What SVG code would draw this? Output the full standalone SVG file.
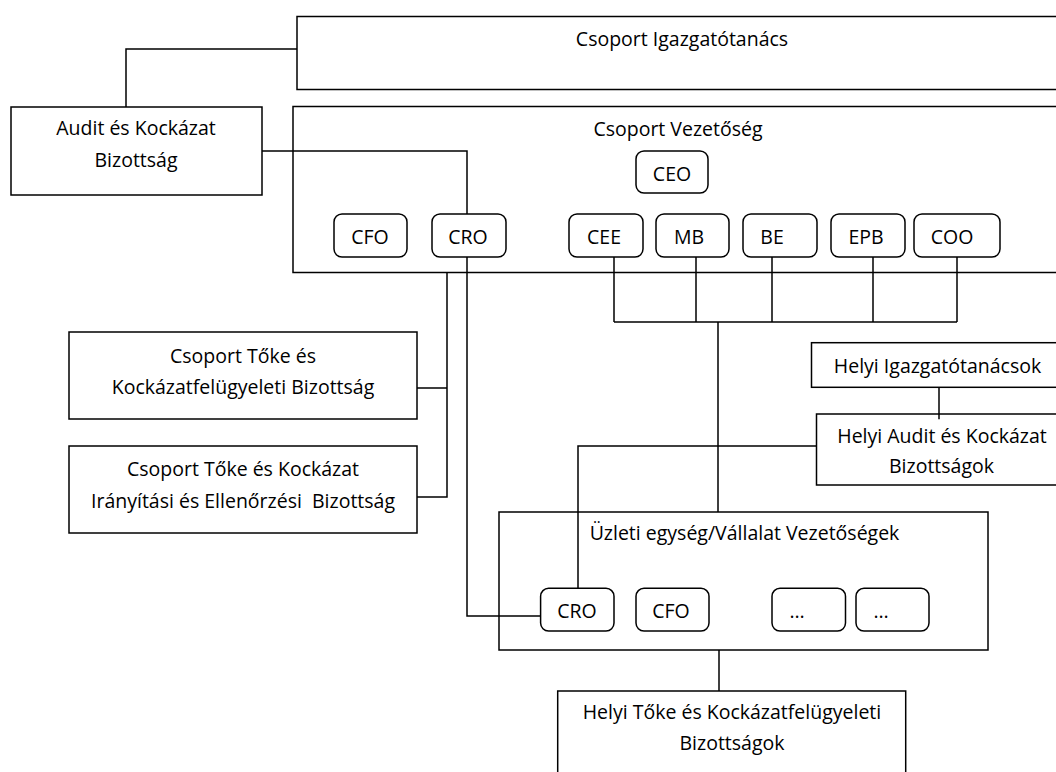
<svg xmlns="http://www.w3.org/2000/svg" width="1056" height="772" viewBox="0 0 1056 772">
<style>
.box{fill:#fff;stroke:#000;stroke-width:1.5}
.r{fill:#fff;stroke:#000;stroke-width:1.5}
.c{fill:none;stroke:#000;stroke-width:1.5}
text{font-family:"Open Sans","Noto Sans","Liberation Sans",sans-serif;font-size:19.5px;fill:#000;text-anchor:middle}
</style>
<rect width="1056" height="772" fill="#fff"/>
<g id="board"><rect class="box" x="297" y="16.5" width="770" height="73"/><text x="682" y="45.5">Csoport Igazgatótanács</text></g>
<g id="audit"><rect class="box" x="11" y="107" width="251" height="88"/><text x="136" y="135">Audit és Kockázat</text><text x="136" y="167">Bizottság</text></g>
<g id="mgmt"><rect class="box" x="293" y="106.5" width="774" height="166"/><text x="678" y="136">Csoport Vezetőség</text></g>
<g id="ceo"><rect class="r" x="636" y="151" width="72" height="42" rx="8"/><text x="672" y="181">CEO</text></g>
<g id="cfo"><rect class="r" x="334" y="214" width="73" height="43" rx="8"/><text x="370" y="244">CFO</text></g>
<g id="cro"><rect class="r" x="432" y="214" width="74" height="43" rx="8"/><text x="468" y="244">CRO</text></g>
<g id="cee"><rect class="r" x="569" y="214" width="74" height="43" rx="8"/><text x="604" y="244">CEE</text></g>
<g id="mb"><rect class="r" x="656" y="214" width="73" height="43" rx="8"/><text x="689" y="244">MB</text></g>
<g id="be"><rect class="r" x="743" y="214" width="74" height="43" rx="8"/><text x="772" y="244">BE</text></g>
<g id="epb"><rect class="r" x="831" y="214" width="74" height="43" rx="8"/><text x="866" y="244">EPB</text></g>
<g id="coo"><rect class="r" x="914" y="214" width="86" height="43" rx="8"/><text x="952" y="244">COO</text></g>
<g id="capcom"><rect class="box" x="69" y="332" width="348" height="87"/><text x="243" y="363">Csoport Tőke és</text><text x="243" y="394">Kockázatfelügyeleti Bizottság</text></g>
<g id="capgov"><rect class="box" x="69" y="446" width="348" height="87"/><text x="243" y="476">Csoport Tőke és Kockázat</text><text x="243" y="508" xml:space="preserve">Irányítási és Ellenőrzési  Bizottság</text></g>
<g id="localboard"><rect class="box" x="811.5" y="342.7" width="260" height="44.6"/><text x="937.5" y="372.7">Helyi Igazgatótanácsok</text></g>
<g id="localaudit"><rect class="box" x="816.5" y="414" width="250" height="71"/><text x="942" y="443.3">Helyi Audit és Kockázat</text><text x="941.5" y="472.7">Bizottságok</text></g>
<g id="bu"><rect class="box" x="499" y="512" width="489" height="138"/><text x="744.5" y="540">Üzleti egység/Vállalat Vezetőségek</text></g>
<g id="bucro"><rect class="r" x="540.6" y="588.3" width="73.4" height="42.7" rx="8"/><text x="577" y="618">CRO</text></g>
<g id="bucfo"><rect class="r" x="636" y="588.3" width="73" height="42.7" rx="8"/><text x="671" y="618">CFO</text></g>
<g id="bux1"><rect class="r" x="772" y="588.3" width="73.5" height="42.7" rx="8"/><text x="797" y="618">…</text></g>
<g id="bux2"><rect class="r" x="856" y="588.3" width="73" height="42.7" rx="8"/><text x="881" y="618">…</text></g>
<g id="localcap"><rect class="box" x="557.7" y="691" width="348" height="100"/><text x="732" y="719">Helyi Tőke és Kockázatfelügyeleti</text><text x="732" y="750">Bizottságok</text></g>
<g id="connectors">
<path class="c" d="M297 49H126V107"/>
<path class="c" d="M262 151H467V214"/>
<path class="c" d="M467 257V616H540.6"/>
<path class="c" d="M417 388H447M447 272.7V497H417"/>
<path class="c" d="M614 257V322M696 257V322M772 257V322M873 257V322M957 257V322M614 322H957M718 322V512"/>
<path class="c" d="M939 387.3V419.3"/>
<path class="c" d="M816.5 446H578V588.3"/>
<path class="c" d="M719 650V691"/>
</g>
</svg>
